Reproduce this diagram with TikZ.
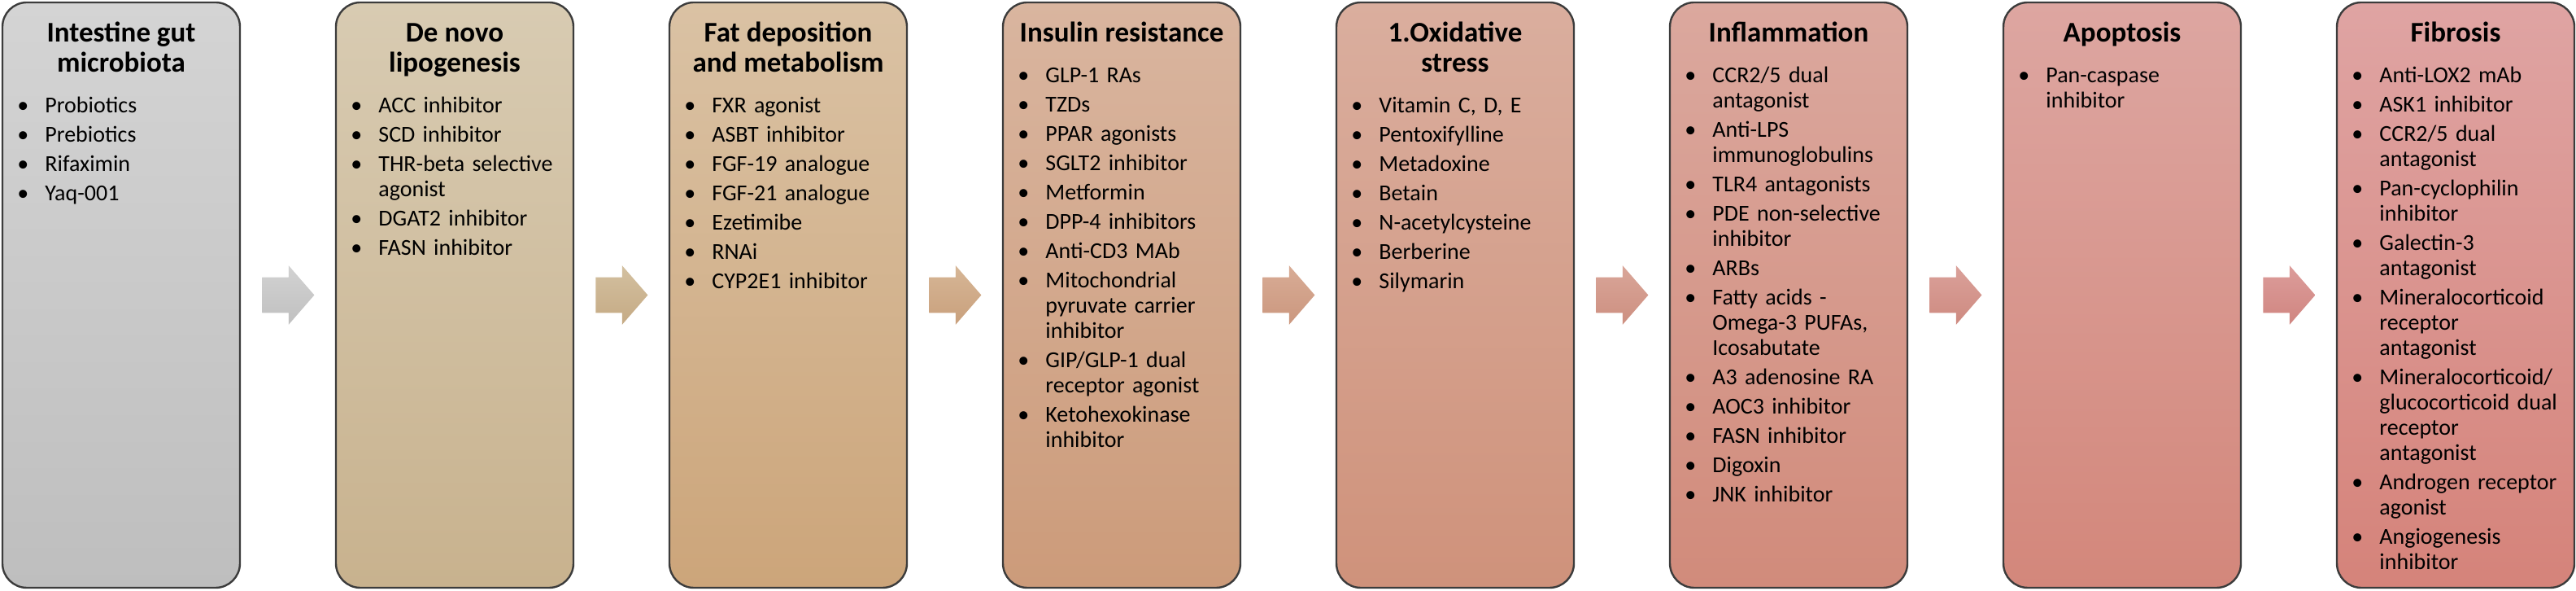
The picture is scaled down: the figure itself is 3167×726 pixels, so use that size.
\documentclass[tikz,border=0pt]{standalone}
\usepackage{fontspec}
\setmainfont{Carlito}
\usetikzlibrary{positioning,calc,shapes.arrows}

\definecolor{edge}{HTML}{3C3C3C}
\definecolor{top1}{HTML}{D4D4D4} \definecolor{bot1}{HTML}{BEBEBE}
\definecolor{top2}{HTML}{D8CBB2} \definecolor{bot2}{HTML}{C8B28E}
\definecolor{top3}{HTML}{DAC2A4} \definecolor{bot3}{HTML}{CCA57A}
\definecolor{top4}{HTML}{D9B59F} \definecolor{bot4}{HTML}{CC9B7A}
\definecolor{top5}{HTML}{DAAE9E} \definecolor{bot5}{HTML}{CF927B}
\definecolor{top6}{HTML}{DBA89E} \definecolor{bot6}{HTML}{D18B7B}
\definecolor{top7}{HTML}{DDA6A1} \definecolor{bot7}{HTML}{D3877B}
\definecolor{top8}{HTML}{DFA4A3} \definecolor{bot8}{HTML}{D5837A}
\definecolor{flowtop1}{HTML}{D2D2D2} \definecolor{flowbot1}{HTML}{C0C0C0}
\definecolor{flowtop2}{HTML}{D3C0A0} \definecolor{flowbot2}{HTML}{C5AA84}
\definecolor{flowtop3}{HTML}{D6B696} \definecolor{flowbot3}{HTML}{C9A07C}
\definecolor{flowtop4}{HTML}{D8AC96} \definecolor{flowbot4}{HTML}{CB977E}
\definecolor{flowtop5}{HTML}{D9A699} \definecolor{flowbot5}{HTML}{CD8F80}
\definecolor{flowtop6}{HTML}{DAA19A} \definecolor{flowbot6}{HTML}{CE8A80}
\definecolor{flowtop7}{HTML}{DC9D9B} \definecolor{flowbot7}{HTML}{D08580}

\newcommand{\drug}[1]{\setlength{\parskip}{2.5pt}\hangindent=17pt\hangafter=1
  \noindent\rule{0pt}{11pt}\makebox[17pt][l]{\textbullet}#1\par}
\newcommand{\headtext}[1]{\rule{0pt}{13pt}#1\rule[-5pt]{0pt}{5pt}}

\tikzset{
  stage/.style={draw=edge, line width=1.2pt, rounded corners=15pt, outer sep=0pt,
    minimum width=146pt, minimum height=359.5pt, inner sep=0pt},
  heading/.style={anchor=north, align=center, inner sep=0pt,
    font=\bfseries\fontsize{17.5}{18.5}\selectfont},
  druglist/.style={anchor=north west, inner sep=0pt, text width=140pt, align=left,
    font=\fontsize{14}{15.5}\selectfont},
  flow/.style={single arrow, draw=none, inner xsep=0pt, inner ysep=10.75pt,
    minimum height=32pt, single arrow head extend=7.25pt, single arrow tip angle=98}
}

\begin{document}
\begin{tikzpicture}[x=0.5pt,y=0.5pt]
  \useasboundingbox (0,0) rectangle (3167,726);

  % stages
  \node[stage, top color=top1, bottom color=bot1] (b1) at (149,363.5) {};
  \node[stage, top color=top2, bottom color=bot2, right=59pt of b1] (b2) {};
  \node[stage, top color=top3, bottom color=bot3, right=59pt of b2] (b3) {};
  \node[stage, top color=top4, bottom color=bot4, right=59pt of b3] (b4) {};
  \node[stage, top color=top5, bottom color=bot5, right=59pt of b4] (b5) {};
  \node[stage, top color=top6, bottom color=bot6, right=59pt of b5] (b6) {};
  \node[stage, top color=top7, bottom color=bot7, right=59pt of b6] (b7) {};
  \node[stage, top color=top8, bottom color=bot8, right=59pt of b7] (b8) {};

  % arrows between the stages
  \foreach \i/\j in {1/2,2/3,3/4,4/5,5/6,6/7,7/8} {
    \node[flow, top color=flowtop\i, bottom color=flowbot\i, anchor=tail]
      (f\i) at ($(b\i.east)!0.5!(b\j.west)+(-16pt,0)$) {};
  }

  % headings
  \node[heading] (t1) at ([yshift=-11pt]b1.north) {\headtext{Intestine gut\\microbiota}};
  \node[heading] (t2) at ([yshift=-11pt]b2.north) {\headtext{De novo\\lipogenesis}};
  \node[heading] (t3) at ([yshift=-11pt]b3.north) {\headtext{Fat deposition\\and metabolism}};
  \node[heading] (t4) at ([yshift=-11pt]b4.north) {\headtext{Insulin resistance}};
  \node[heading] (t5) at ([yshift=-11pt]b5.north) {\headtext{1.Oxidative\\stress}};
  \node[heading] (t6) at ([yshift=-11pt]b6.north) {\headtext{Inflammation}};
  \node[heading] (t7) at ([yshift=-11pt]b7.north) {\headtext{Apoptosis}};
  \node[heading] (t8) at ([yshift=-11pt]b8.north) {\headtext{Fibrosis}};

  % drug lists
  \node[druglist] (d1) at ($(t1.south -| b1.west)+(9pt,-8.5pt)$) {%
    \drug{Probiotics}\drug{Prebiotics}\drug{Rifaximin}\drug{Yaq-001}};
  \node[druglist] (d2) at ($(t2.south -| b2.west)+(9pt,-8.5pt)$) {%
    \drug{ACC inhibitor}\drug{SCD inhibitor}\drug{THR-beta selective\newline agonist}%
    \drug{DGAT2 inhibitor}\drug{FASN inhibitor}};
  \node[druglist] (d3) at ($(t3.south -| b3.west)+(9pt,-8.5pt)$) {%
    \drug{FXR agonist}\drug{ASBT inhibitor}\drug{FGF-19 analogue}\drug{FGF-21 analogue}%
    \drug{Ezetimibe}\drug{RNAi}\drug{CYP2E1 inhibitor}};
  \node[druglist] (d4) at ($(t4.south -| b4.west)+(9pt,-8.5pt)$) {%
    \drug{GLP-1 RAs}\drug{TZDs}\drug{PPAR agonists}\drug{SGLT2 inhibitor}%
    \drug{Metformin}\drug{DPP-4 inhibitors}\drug{Anti-CD3 MAb}%
    \drug{Mitochondrial\newline pyruvate carrier\newline inhibitor}%
    \drug{GIP/GLP-1 dual\newline receptor agonist}\drug{Ketohexokinase\newline inhibitor}};
  \node[druglist] (d5) at ($(t5.south -| b5.west)+(9pt,-8.5pt)$) {%
    \drug{Vitamin C, D, E}\drug{Pentoxifylline}\drug{Metadoxine}\drug{Betain}%
    \drug{N-acetylcysteine}\drug{Berberine}\drug{Silymarin}};
  \node[druglist] (d6) at ($(t6.south -| b6.west)+(9pt,-8.5pt)$) {%
    \drug{CCR2/5 dual\newline antagonist}\drug{Anti-LPS\newline immunoglobulins}%
    \drug{TLR4 antagonists}\drug{PDE non-selective\newline inhibitor}\drug{ARBs}%
    \drug{Fatty acids -\newline Omega-3 PUFAs,\newline Icosabutate}%
    \drug{A3 adenosine RA}\drug{AOC3 inhibitor}\drug{FASN inhibitor}%
    \drug{Digoxin}\drug{JNK inhibitor}};
  \node[druglist] (d7) at ($(t7.south -| b7.west)+(9pt,-8.5pt)$) {%
    \drug{Pan-caspase\newline inhibitor}};
  \node[druglist] (d8) at ($(t8.south -| b8.west)+(9pt,-8.5pt)$) {%
    \drug{Anti-LOX2 mAb}\drug{ASK1 inhibitor}\drug{CCR2/5 dual\newline antagonist}%
    \drug{Pan-cyclophilin\newline inhibitor}\drug{Galectin-3\newline antagonist}%
    \drug{Mineralocorticoid\newline receptor\newline antagonist}%
    \drug{Mineralocorticoid/\newline glucocorticoid dual\newline receptor\newline antagonist}%
    \drug{Androgen receptor\newline agonist}\drug{Angiogenesis\newline inhibitor}};
\end{tikzpicture}
\end{document}
